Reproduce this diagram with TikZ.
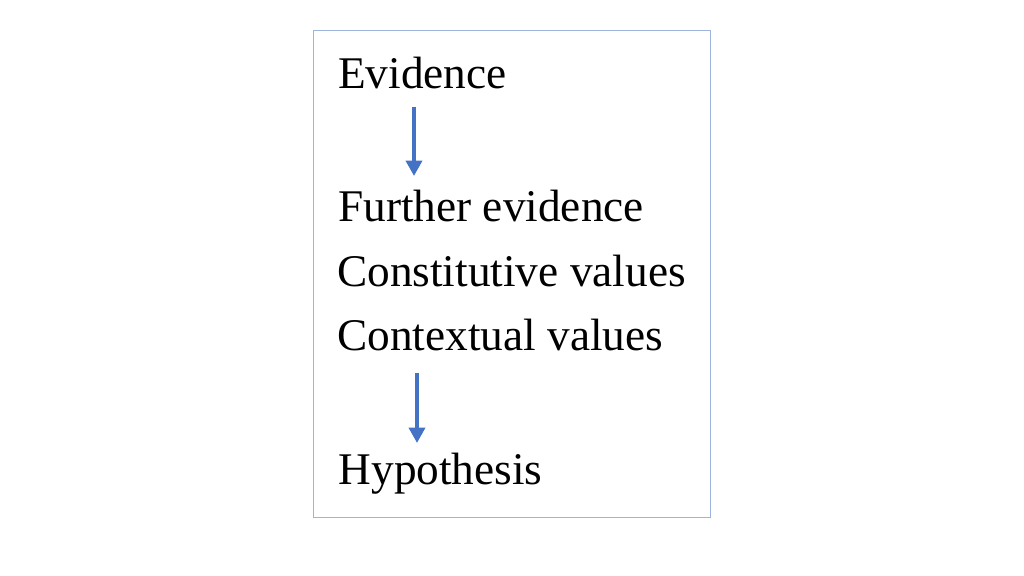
\documentclass[tikz,border=0pt]{standalone}
\usepackage{fontspec}
\setmainfont{Liberation Serif}
\usetikzlibrary{arrows.meta}
\definecolor{arrowblue}{HTML}{4472C4}
\definecolor{boxblue}{HTML}{9DB4DC}
\begin{document}
\begin{tikzpicture}[x=1pt,y=-1pt,
  lbl/.style={anchor=base west, inner sep=0pt, font=\fontsize{45.3}{52}\selectfont},
  flow/.style={draw=arrowblue, line width=4pt, -{Triangle[width=16pt,length=15.5pt]}}]
\useasboundingbox (0,0) rectangle (1024,575);
\draw[boxblue, line width=1pt] (313,31) rectangle (710.5,517);
\node[lbl] (ev) at (338,88.3) {Evidence};
\node[lbl] (fe) at (338,221) {Further evidence};
\node[lbl] (cv) at (337,286) {Constitutive values};
\node[lbl] (xv) at (337,350.7) {Contextual values};
\node[lbl] (hy) at (338.5,484.3) {Hypothesis};
\coordinate (a1s) at (414,106.7);
\coordinate (a1e) at (414,176);
\coordinate (a2s) at (417,373);
\coordinate (a2e) at (417,443);
\draw[flow] (a1s) -- (a1e);
\draw[flow] (a2s) -- (a2e);
\end{tikzpicture}
\end{document}
